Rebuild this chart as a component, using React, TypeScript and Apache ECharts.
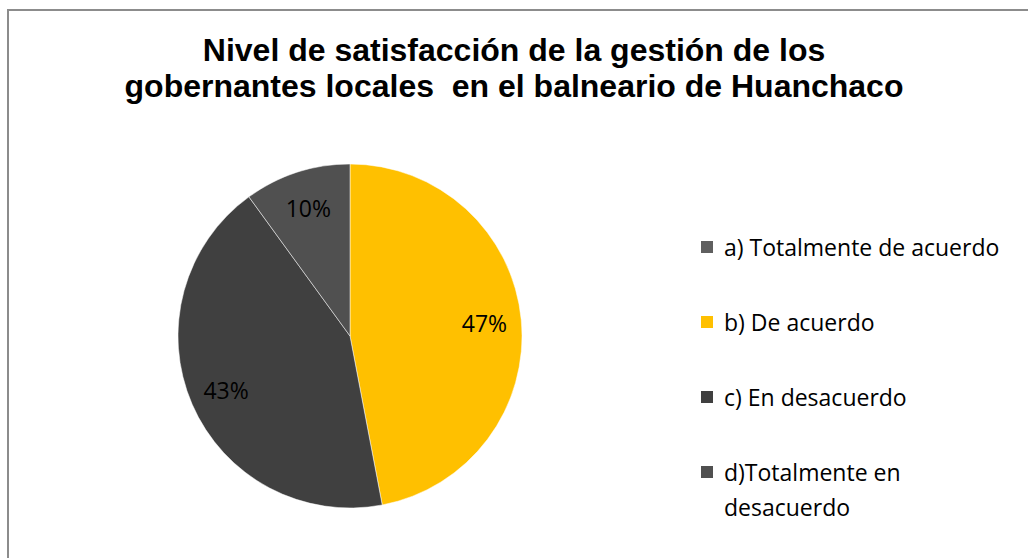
import React, { useEffect, useRef } from "react";
import * as echarts from "echarts";

const titleLines = [
  "Nivel de satisfacción de la gestión de los",
  "gobernantes locales  en el balneario de Huanchaco",
];
const categories = [
  "a) Totalmente de acuerdo",
  "b) De acuerdo",
  "c) En desacuerdo",
  "d)Totalmente en desacuerdo",
];
const values = [0, 47, 43, 10];
const colors = ["#5f5f5f", "#FFC000", "#404040", "#505050"];

export default function App() {
  const ref = useRef<HTMLDivElement>(null);
  useEffect(() => {
    if (!ref.current) return;
    const chart = echarts.init(ref.current, undefined, { renderer: "svg" });
    const data = categories.map((name, i) => ({
      name,
      value: values[i],
      itemStyle: { color: colors[i] },
    }));
    const labelData = categories.map((name, i) => ({
      name,
      value: values[i],
      label: { show: values[i] > 0 },
    }));
    const legendText = {
      fontFamily: "Open Sans, Noto Sans, sans-serif",
      fontSize: 23,
      lineHeight: 35,
      color: "#000000",
      padding: [0, 0, 0, 5],
    };
    chart.setOption({
      animation: false,
      backgroundColor: "#ffffff",
      title: {
        text: titleLines.join("\n"),
        left: "center",
        top: 27,
        textStyle: {
          fontFamily: "Liberation Sans, Arial, sans-serif",
          fontWeight: "bold",
          fontSize: 32,
          lineHeight: 36,
          color: "#000000",
        },
      },
      graphic: [
        {
          type: "rect",
          shape: { x: 8, y: 10, width: 1040, height: 580 },
          style: { fill: "none", stroke: "#8c8c8c", lineWidth: 2 },
          silent: true,
          z: -1,
        },
      ],
      legend: [
        {
          orient: "vertical",
          left: 699,
          top: 229.5,
          padding: 0,
          icon: "rect",
          itemWidth: 14,
          itemHeight: 14,
          itemGap: 40,
          textStyle: legendText,
          data: categories.slice(0, 3),
        },
        {
          orient: "vertical",
          left: 699,
          top: 419.5,
          padding: 0,
          icon: "rect",
          itemWidth: 14,
          itemHeight: 14,
          textStyle: legendText,
          formatter: () => " \nd)Totalmente en\ndesacuerdo",
          data: categories.slice(3),
        },
      ],
      series: [
        {
          type: "pie",
          center: [350, 336],
          radius: [0, 172],
          startAngle: 90,
          clockwise: true,
          itemStyle: { borderColor: "#ffffff", borderWidth: 0.5 },
          label: { show: false },
          labelLine: { show: false },
          data,
        },
        {
          type: "pie",
          center: [350, 336],
          radius: [92, 172],
          startAngle: 90,
          clockwise: true,
          silent: true,
          legendHoverLink: false,
          itemStyle: { color: "rgba(0,0,0,0)", borderWidth: 0 },
          label: {
            show: true,
            position: "inside",
            formatter: (p: any) => `${p.value}%`,
            fontFamily: "Open Sans, Noto Sans, sans-serif",
            fontSize: 23,
            color: "#000000",
          },
          labelLine: { show: false },
          data: labelData,
        },
      ],
    });
    return () => chart.dispose();
  }, []);
  return (
    <div
      ref={ref}
      style={{ position: "absolute", left: 0, top: 0, width: 1028, height: 558 }}
    />
  );
}
